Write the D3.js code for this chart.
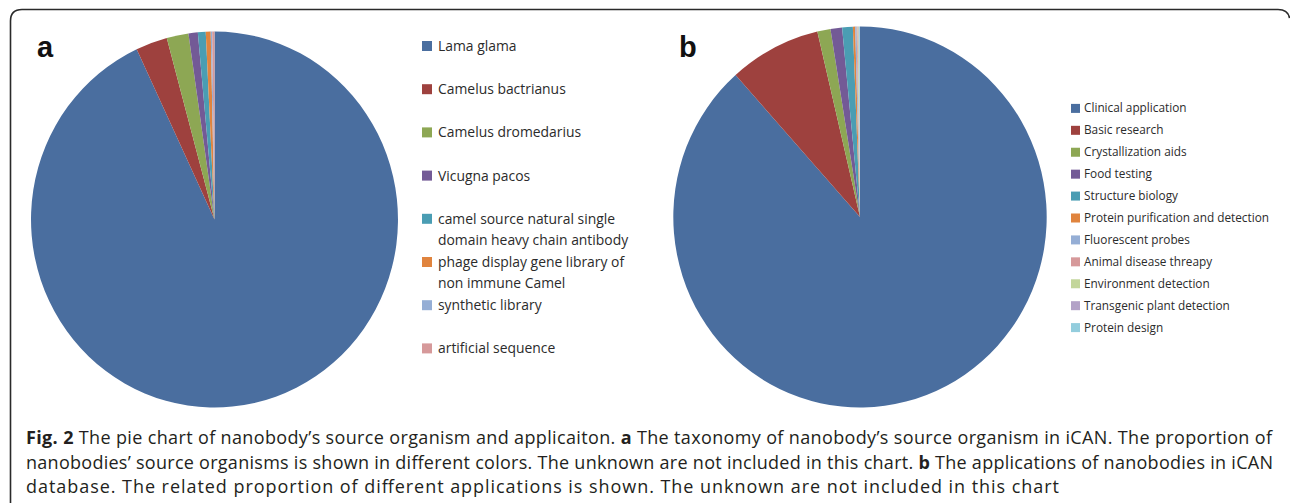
<!DOCTYPE html>
<html>
<head>
<meta charset="utf-8">
<script src="https://cdn.jsdelivr.net/npm/d3@7"></script>
<style>
  html, body { margin: 0; padding: 0; background: #fff; }
  svg { display: block; }
</style>
</head>
<body>
<svg id="chart" width="1290" height="503"></svg>
<script>
// ---- data ----
const sourceCategories = ["Lama glama", "Camelus bactrianus", "Camelus dromedarius", "Vicugna pacos",
  "camel source natural single domain heavy chain antibody", "phage display gene library of non immune Camel",
  "synthetic library", "artificial sequence"];
const sourceLegendLines = [["Lama glama"], ["Camelus bactrianus"], ["Camelus dromedarius"], ["Vicugna pacos"],
  ["camel source natural single", "domain heavy chain antibody"], ["phage display gene library of", "non immune Camel"],
  ["synthetic library"], ["artificial sequence"]];
const sourceValues = [93.03, 2.78, 1.92, 0.82, 0.69, 0.43, 0.13, 0.20];

const appCategories = ["Clinical application", "Basic research", "Crystallization aids", "Food testing",
  "Structure biology", "Protein purification and detection", "Fluorescent probes", "Animal disease threapy",
  "Environment detection", "Transgenic plant detection", "Protein design"];
const appValues = [88.39, 7.94, 1.14, 1.00, 0.92, 0.20, 0.12, 0.08, 0.08, 0.06, 0.07];

const paletteColors = ["#4A6E9F", "#9E413E", "#8DA754", "#735A96", "#4A9DB3", "#E0843E",
  "#95AED5", "#D6999A", "#C3D69B", "#B3A2C7", "#93CDDD"];

const captionLines = [
  [{b: true, t: "Fig. 2"}, {t: " The pie chart of nanobody\u2019s source organism and applicaiton. "}, {b: true, t: "a"}, {t: " The taxonomy of nanobody\u2019s source organism in iCAN. The proportion of"}],
  [{t: "nanobodies\u2019 source organisms is shown in different colors. The unknown are not included in this chart. "}, {b: true, t: "b"}, {t: " The applications of nanobodies in iCAN"}],
  [{t: "database. The related proportion of different applications is shown. The unknown are not included in this chart"}]
];

// ---- drawing ----
const svg = d3.select("#chart");
const color = d3.scaleOrdinal().domain(d3.range(paletteColors.length)).range(paletteColors);

// frame
svg.append("path")
  .attr("d", "M10.5,503 L10.5,21 Q10.5,9.5 22,9.5 L1278,9.5 Q1288,9.5 1289.5,18")
  .attr("fill", "none").attr("stroke", "#2a2a2a").attr("stroke-width", 1.6);

function drawPie(values, cx, cy, r, sx) {
  const pie = d3.pie().sort(null).value(d => d);
  const arc = d3.arc().innerRadius(0).outerRadius(r);
  const g = svg.append("g").attr("transform", `translate(${cx},${cy}) scale(${sx},1)`);
  g.selectAll("path").data(pie(values)).join("path")
    .attr("d", arc)
    .attr("fill", (d, i) => color(i));
}

drawPie(sourceValues, 214.5, 219.5, 188, 0.976);
drawPie(appValues, 860, 217, 190.5, 0.98);

// panel letters
svg.append("text").attr("x", 37).attr("y", 57).text("a")
  .attr("font-family", "Liberation Sans, Arial, sans-serif").attr("font-weight", "bold").attr("font-size", 29).attr("fill", "#111");
svg.append("text").attr("x", 679).attr("y", 57).text("b")
  .attr("font-family", "Liberation Sans, Arial, sans-serif").attr("font-weight", "bold").attr("font-size", 29).attr("fill", "#111");

// legend a
const legA = svg.append("g");
const yA = d3.scaleLinear().domain([0, 7]).range([46, 348.4]);
sourceLegendLines.forEach((lines, i) => {
  const y = yA(i);
  legA.append("rect").attr("x", 422).attr("y", y - 5).attr("width", 10).attr("height", 10).attr("fill", color(i));
  lines.forEach((ln, j) => {
    legA.append("text").attr("x", 438).attr("y", y + 5 + j * 21.2).text(ln)
      .attr("font-family", "Open Sans, sans-serif").attr("font-size", 13.9).attr("fill", "#2b2b2b");
  });
});

// legend b
const legB = svg.append("g");
const yB = d3.scaleLinear().domain([0, 10]).range([108.4, 327.6]);
appCategories.forEach((c, i) => {
  const y = yB(i);
  legB.append("rect").attr("x", 1071).attr("y", y - 4.5).attr("width", 9).attr("height", 9).attr("fill", color(i));
  legB.append("text").attr("x", 1084).attr("y", y + 4).text(c)
    .attr("font-family", "Open Sans, sans-serif").attr("font-size", 11.8).attr("fill", "#2b2b2b");
});

// caption
const capY = [444, 468.5, 493];
const capLen = [1246, 1247, 1033];
captionLines.forEach((parts, i) => {
  const t = svg.append("text").attr("x", 26).attr("y", capY[i])
    .attr("font-family", "Open Sans, sans-serif").attr("font-size", 18).attr("fill", "#231f20");
  parts.forEach(p => {
    t.append("tspan").text(p.t).attr("font-weight", p.b ? "bold" : "normal");
  });
  t.attr("textLength", capLen[i]).attr("lengthAdjust", "spacing");
});
</script>
</body>
</html>
